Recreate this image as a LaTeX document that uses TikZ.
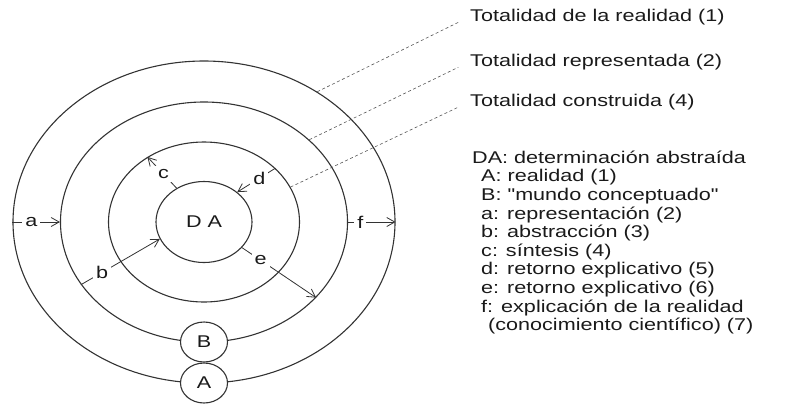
\documentclass[tikz,border=0pt]{standalone}
\usepackage{fontspec}
\setmainfont{Liberation Sans}[FakeStretch=1.27]
\newfontfamily\qfont{Liberation Sans}[FakeStretch=1.27]
\usetikzlibrary{shapes.geometric,arrows.meta}
\newcommand\mainfs{\fontsize{17bp}{18.6bp}\selectfont}
\newcommand\sq{{\qfont"}}
\definecolor{linec}{HTML}{333333}
\definecolor{textc}{HTML}{1A1A1A}
\definecolor{leadc}{HTML}{555555}
\begin{document}
\begin{tikzpicture}[x=1bp,y=-1bp,
  font=\mainfs, text=textc,
  ring/.style={draw=linec, line width=1.1bp, ellipse, inner sep=0pt},
  lbl/.style={fill=white, inner sep=3bp},
  conn/.style={draw=linec, line width=0.8bp, -{Straight Barb[length=8bp,width=9bp]}},
  leader/.style={draw=leadc, line width=0.6bp, dash pattern=on 3bp off 2.5bp, shorten >=13bp},
  title/.style={anchor=base west, inner sep=0pt}]
\useasboundingbox (0,0) rectangle (785,404);
% rings
\node[ring, minimum width=382bp, minimum height=322bp] (R1) at (204,222) {};
\node[ring, minimum width=287bp, minimum height=240bp] (R2) at (204,222) {};
\node[ring, minimum width=191bp, minimum height=160bp] (R3) at (204,222) {};
\node[ring, minimum width=96bp, minimum height=81bp] (DA) at (204,222) {D A};
% A and B
\node[ring, fill=white, minimum width=47bp, minimum height=40bp] (B) at (204,342) {B};
\node[ring, fill=white, minimum width=47bp, minimum height=40bp] (A) at (204,383) {A};
% connectors
\draw[conn] (R1.west) -- node[lbl, pos=0.4] {a} (R2.west);
\draw[conn] (R2.east) -- node[lbl, pos=0.26] {f} (R1.east);
\draw[conn] (R2.207) -- node[lbl, pos=0.27] {b} (DA.201);
\draw[conn] (DA.129) -- node[lbl, pos=0.45] {c} (R3.131);
\draw[conn] (R3.37) -- node[lbl, pos=0.42] {d} (DA.42);
\draw[conn] (DA.326) -- node[lbl, pos=0.25] {e} (R2.326);
% titles
\node[title] (t1) at (470,21) {Totalidad de la realidad (1)};
\node[title] (t2) at (470,66) {Totalidad representada (2)};
\node[title] (t3) at (470,106) {Totalidad construida (4)};
\draw[leader] (R1.49) -- (t1.west);
\draw[leader] (R2.38) -- (t2.west);
\draw[leader] (R3.22) -- (t3.west);
% legend
\node[anchor=base west, inner sep=0pt, align=left] (leg) at (472,330.7) {%
DA: determinación abstraída\\
\hspace*{9bp}A: realidad (1)\\
\hspace*{9bp}B: \sq mundo conceptuado\sq\\
\hspace*{9bp}a: representación (2)\\
\hspace*{9bp}b: abstracción (3)\\
\hspace*{9bp}c: síntesis (4)\\
\hspace*{9bp}d: retorno explicativo (5)\\
\hspace*{9bp}e: retorno explicativo (6)\\
\hspace*{9bp}f: explicación de la realidad\\
\hspace*{16bp}(conocimiento científico) (7)};
\end{tikzpicture}
\end{document}
